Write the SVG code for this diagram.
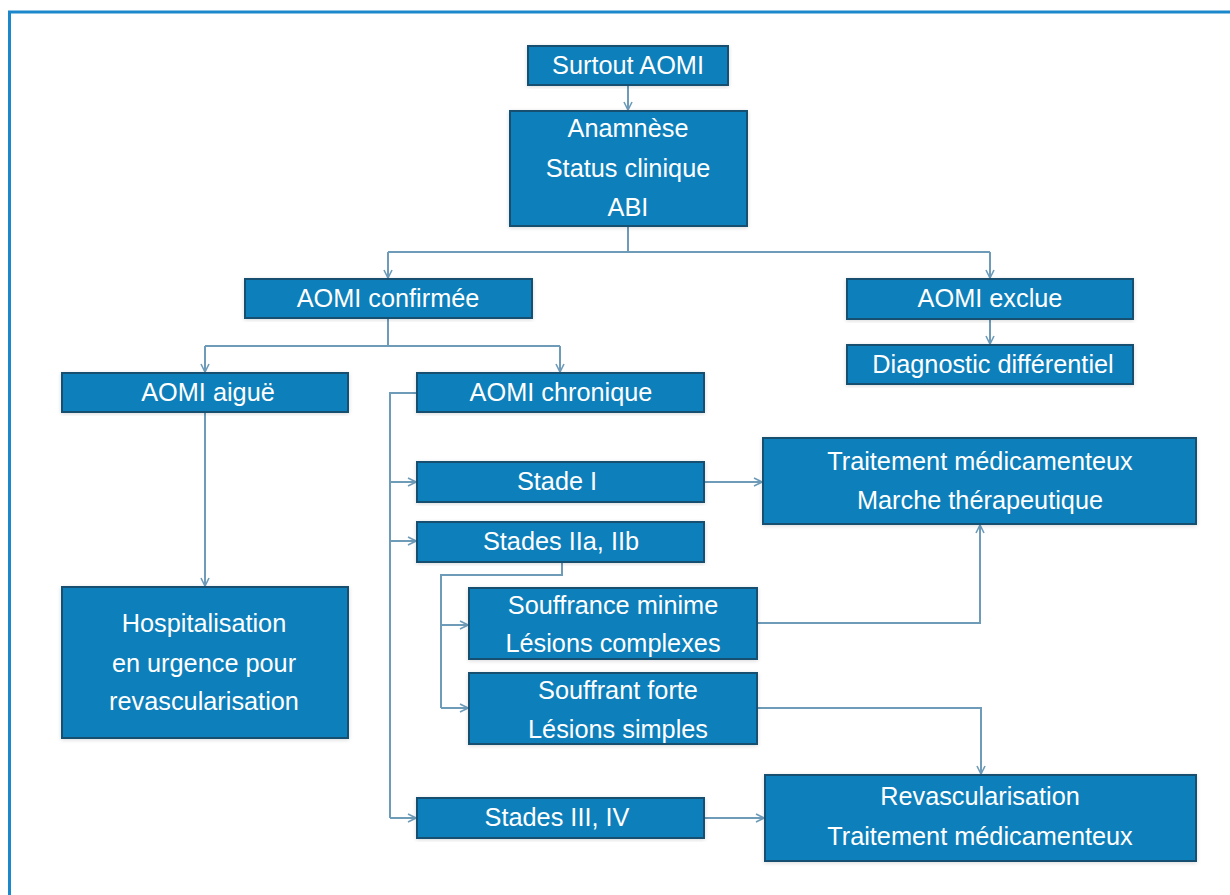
<svg xmlns="http://www.w3.org/2000/svg" width="1230" height="895" viewBox="0 0 1230 895">
<defs>
<marker id="arr" viewBox="0 0 10 10" refX="9" refY="5" markerWidth="10" markerHeight="10" markerUnits="userSpaceOnUse" orient="auto">
<path d="M1,1 L9,5 L1,9" fill="none" stroke="#6d9bb8" stroke-width="1.6"/>
</marker>
<filter id="sh" x="-5%" y="-10%" width="110%" height="120%">
<feGaussianBlur in="SourceAlpha" stdDeviation="2"/>
<feOffset dx="0" dy="1" result="b"/>
<feComponentTransfer><feFuncA type="linear" slope="0.15"/></feComponentTransfer>
<feMerge><feMergeNode/><feMergeNode in="SourceGraphic"/></feMerge>
</filter>
</defs>
<style>
.box{fill:#0d7fba;stroke:#17506f;stroke-width:2;filter:url(#sh)}
.t{font-family:"Liberation Sans",Arial,sans-serif;font-size:25.3px;fill:#ffffff;text-anchor:middle}
.c{fill:none;stroke:#6d9bb8;stroke-width:2}
.a{marker-end:url(#arr)}
</style>
<rect width="1230" height="895" fill="#ffffff"/>
<path d="M9.5 900 V12 H1240" fill="none" stroke="#1b88cc" stroke-width="3"/>

<g id="connectors">
<path class="c a" d="M628 85 V110"/>
<path class="c" d="M628 226 V252 M388 252 H990"/>
<path class="c a" d="M388 252 V278"/>
<path class="c a" d="M990 252 V278"/>
<path class="c a" d="M990 319 V344"/>
<path class="c" d="M388 318 V346 M205 346 H560"/>
<path class="c a" d="M205 346 V372"/>
<path class="c a" d="M560 346 V372"/>
<path class="c a" d="M205 412 V586"/>
<path class="c" d="M417 393 H390 V818"/>
<path class="c a" d="M390 482 H416"/>
<path class="c a" d="M390 541 H416"/>
<path class="c a" d="M390 818 H416"/>
<path class="c a" d="M704 482 H762"/>
<path class="c a" d="M704 818 H764"/>
<path class="c" d="M562 562 V575 H441 V708"/>
<path class="c a" d="M441 625 H468"/>
<path class="c a" d="M441 708 H468"/>
<path class="c a" d="M757 623 H980 V525"/>
<path class="c a" d="M757 708 H981 V774"/>
</g>

<g id="n-surtout"><rect class="box" x="528" y="46" width="200" height="39"/><text class="t" x="628" y="74">Surtout AOMI</text></g>
<g id="n-anamnese"><rect class="box" x="510" y="111" width="237" height="115"/><text class="t" x="628" y="137">Anamnèse</text><text class="t" x="628" y="177">Status clinique</text><text class="t" x="628" y="216">ABI</text></g>
<g id="n-confirmee"><rect class="box" x="245" y="279" width="287" height="39"/><text class="t" x="388" y="307">AOMI confirmée</text></g>
<g id="n-exclue"><rect class="box" x="847" y="279" width="286" height="40"/><text class="t" x="990" y="307">AOMI exclue</text></g>
<g id="n-diag"><rect class="box" x="847" y="345" width="286" height="39"/><text class="t" x="993" y="373">Diagnostic différentiel</text></g>
<g id="n-aigue"><rect class="box" x="62" y="373" width="286" height="39"/><text class="t" x="208" y="401">AOMI aiguë</text></g>
<g id="n-chronique"><rect class="box" x="417" y="373" width="287" height="39"/><text class="t" x="561" y="401">AOMI chronique</text></g>
<g id="n-hosp"><rect class="box" x="62" y="587" width="286" height="151"/><text class="t" x="204" y="632">Hospitalisation</text><text class="t" x="204" y="672">en urgence pour</text><text class="t" x="204" y="710">revascularisation</text></g>
<g id="n-stade1"><rect class="box" x="417" y="462" width="287" height="40"/><text class="t" x="557" y="490">Stade I</text></g>
<g id="n-traitement"><rect class="box" x="763" y="438" width="433" height="86"/><text class="t" x="980" y="470">Traitement médicamenteux</text><text class="t" x="980" y="509">Marche thérapeutique</text></g>
<g id="n-stade2"><rect class="box" x="417" y="522" width="287" height="40"/><text class="t" x="561" y="550">Stades IIa, IIb</text></g>
<g id="n-souffrance"><rect class="box" x="469" y="588" width="288" height="71"/><text class="t" x="613" y="614">Souffrance minime</text><text class="t" x="613" y="652">Lésions complexes</text></g>
<g id="n-souffrant"><rect class="box" x="469" y="673" width="288" height="71"/><text class="t" x="618" y="699">Souffrant forte</text><text class="t" x="618" y="738">Lésions simples</text></g>
<g id="n-stade3"><rect class="box" x="417" y="798" width="287" height="40"/><text class="t" x="557" y="826">Stades III, IV</text></g>
<g id="n-revasc"><rect class="box" x="765" y="775" width="431" height="86"/><text class="t" x="980" y="805">Revascularisation</text><text class="t" x="980" y="845">Traitement médicamenteux</text></g>
</svg>
